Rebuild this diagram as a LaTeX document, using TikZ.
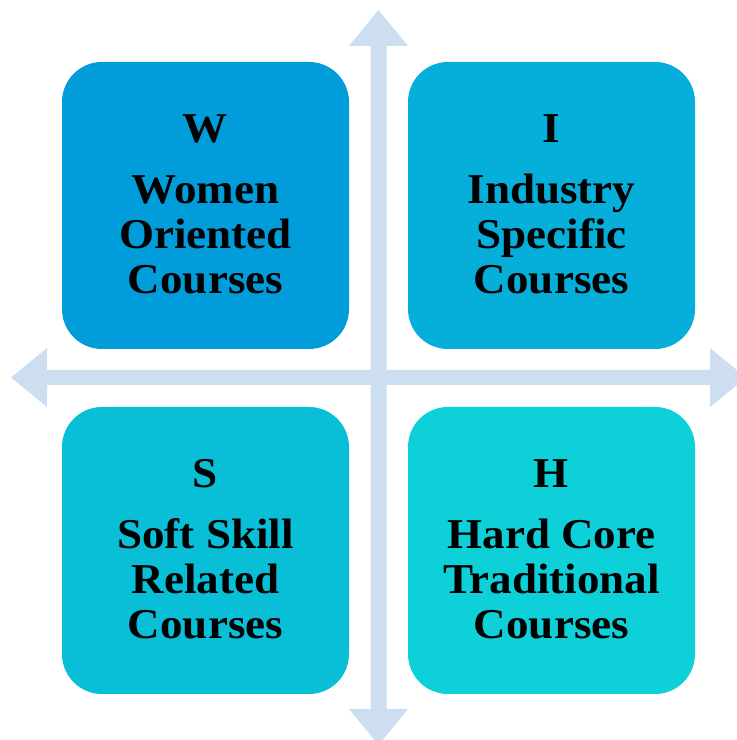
\documentclass[tikz,border=0pt]{standalone}
\usepackage{fontspec}
\setmainfont[FakeStretch=1.06]{Liberation Serif}
\definecolor{cW}{RGB}{0,157,218}
\definecolor{cI}{RGB}{6,175,218}
\definecolor{cS}{RGB}{9,191,216}
\definecolor{cH}{RGB}{13,208,217}
\definecolor{axis}{RGB}{204,222,239}
\tikzset{
  quadbox/.style={rounded corners=40pt, minimum width=287pt, minimum height=287pt, inner sep=0pt, draw=none},
  quadtxt/.style={font=\bfseries\fontsize{42.5}{44.5}\selectfont, anchor=base, inner sep=0pt},
  axisarrow/.style={fill=axis, draw=none}
}
\newcommand\quadrant[8]{%
  \node[quadbox, fill=#4] (#1) at (#2,#3) {};
  \node[quadtxt] (#1-t) at ([yshift=63pt]#1.center) {#5};
  \node[quadtxt] (#1-a) at ([yshift=1.5pt]#1.center) {#6};
  \node[quadtxt] (#1-b) at ([yshift=-43.5pt]#1.center) {#7};
  \node[quadtxt] (#1-c) at ([yshift=-88pt]#1.center) {#8};
}
\begin{document}
\begin{tikzpicture}[x=1pt,y=1pt]
\useasboundingbox (0,0) rectangle (737,740);
\clip (0,0) rectangle (737,740);
% vertical axis
\fill[axisarrow] (378.5,730) -- (408,694) -- (386.5,694) -- (386.5,31) -- (408,31)
  -- (378.5,-5) -- (349,31) -- (370.5,31) -- (370.5,694) -- (349,694) -- cycle;
% horizontal axis
\fill[axisarrow] (11,362.5) -- (47,392) -- (47,370) -- (710,370) -- (710,392)
  -- (746,362.5) -- (710,333) -- (710,355) -- (47,355) -- (47,333) -- cycle;
\quadrant{W}{205.5}{534.5}{cW}{W}{Women}{Oriented}{Courses}
\quadrant{I}{551.5}{534.5}{cI}{I}{Industry}{Specific}{Courses}
\quadrant{S}{205.5}{189.5}{cS}{S}{Soft Skill}{Related}{Courses}
\quadrant{H}{551.5}{189.5}{cH}{H}{Hard Core}{Traditional}{Courses}
\end{tikzpicture}
\end{document}
